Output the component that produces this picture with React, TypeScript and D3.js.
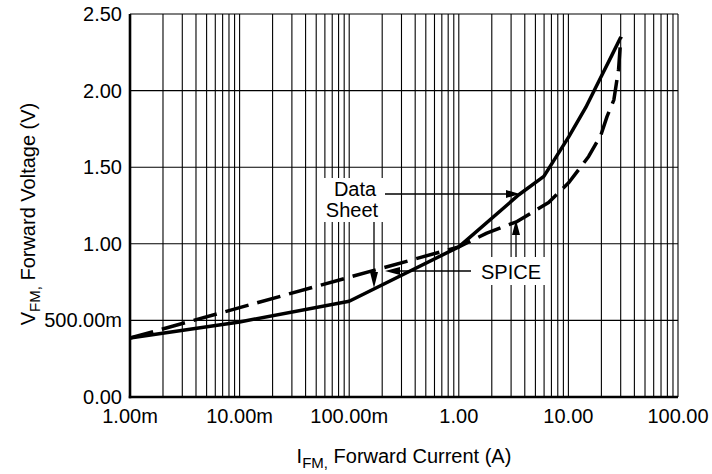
import React from "react";
import * as d3 from "d3";

const xTickValues = [0.001, 0.01, 0.1, 1, 10, 100];
const xTickLabels = ["1.00m", "10.00m", "100.00m", "1.00", "10.00", "100.00"];
const yTickValues = [0, 0.5, 1, 1.5, 2, 2.5];
const yTickLabels = ["0.00", "500.00m", "1.00", "1.50", "2.00", "2.50"];

const dataSheetI = [0.001, 0.01, 0.1, 1, 3.53, 5.97, 10.1, 14.4, 18.9, 24.9, 30.1];
const dataSheetV = [0.385, 0.49, 0.625, 0.98, 1.32, 1.44, 1.7, 1.89, 2.06, 2.23, 2.35];

const spiceI = [0.001, 1, 1.8, 3.4, 6.6, 10.1, 15.3, 19.8, 22.5, 26, 28.7, 30.1];
const spiceV = [0.385, 0.98, 1.07, 1.145, 1.27, 1.4, 1.57, 1.71, 1.83, 1.94, 2.14, 2.35];

const W = 712;
const H = 474;
const FONT = "'Liberation Sans', Arial, Helvetica, sans-serif";

export default function App() {
  const x = d3.scaleLog().domain([0.001, 100]).range([130, 678]);
  const y = d3.scaleLinear().domain([0, 2.5]).range([397, 14]);

  const minor: number[] = [];
  for (let e = -3; e < 2; e++) {
    for (let m = 1; m <= 9; m++) minor.push(m * Math.pow(10, e));
  }
  minor.push(100);

  const line = d3
    .line<[number, number]>()
    .x((d) => x(d[0]))
    .y((d) => y(d[1]));

  const ds: [number, number][] = dataSheetI.map((v, i) => [v, dataSheetV[i]]);
  const sp: [number, number][] = spiceI.map((v, i) => [v, spiceV[i]]);

  const [x0, x1] = x.range();
  const [yb, yt] = y.range();

  return (
    <svg
      width={W}
      height={H}
      style={{ position: "absolute", left: 0, top: 0, background: "#fff" }}
      fontFamily={FONT}
    >
      <rect x={0} y={0} width={W} height={H} fill="#fff" />
      {/* vertical grid */}
      {minor.map((v, i) => (
        <line key={"vx" + i} x1={x(v)} x2={x(v)} y1={yt} y2={yb} stroke="#000" strokeWidth={1.1} />
      ))}
      {/* horizontal grid */}
      {yTickValues.map((v, i) => (
        <line key={"hy" + i} x1={x0} x2={x1} y1={y(v)} y2={y(v)} stroke="#000" strokeWidth={1.1} />
      ))}
      {/* axes */}
      <line x1={x0} x2={x0} y1={yt} y2={yb + 1.2} stroke="#000" strokeWidth={2.6} />
      <line x1={x0 - 1.2} x2={x1} y1={yb} y2={yb} stroke="#000" strokeWidth={2.6} />

      {/* curves */}
      <path d={line(ds) || ""} fill="none" stroke="#000" strokeWidth={3.5} strokeLinejoin="round" />
      <path
        d={line(sp) || ""}
        fill="none"
        stroke="#000"
        strokeWidth={3.5}
        strokeDasharray="24,9"
        strokeLinejoin="round"
      />

      {/* tick labels */}
      {xTickValues.map((v, i) => (
        <text key={"xt" + i} x={x(v)} y={423} textAnchor="middle" fontSize={20} fill="#000">
          {xTickLabels[i]}
        </text>
      ))}
      {yTickValues.map((v, i) => (
        <text key={"yt" + i} x={122} y={y(v) + 7} textAnchor="end" fontSize={20} fill="#000">
          {yTickLabels[i]}
        </text>
      ))}

      {/* axis titles */}
      <text x={(x0 + x1) / 2} y={463} textAnchor="middle" fontSize={20} fill="#000">
        I<tspan dy={5} fontSize={15}>FM,</tspan>
        <tspan dy={-5}> Forward Current (A)</tspan>
      </text>
      <text
        transform={`translate(35,214) rotate(-90)`}
        textAnchor="middle"
        fontSize={20}
        fill="#000"
      >
        V<tspan dy={5} fontSize={15}>FM,</tspan>
        <tspan dy={-5}> Forward Voltage (V)</tspan>
      </text>

      {/* annotation: Data Sheet */}
      <rect x={322} y={178} width={62} height={44} fill="#fff" />
      <text x={355} y={196} textAnchor="middle" fontSize={20} fill="#000">Data</text>
      <text x={352} y={217} textAnchor="middle" fontSize={20} fill="#000">Sheet</text>
      <line x1={385} x2={508} y1={194} y2={194} stroke="#000" strokeWidth={1.3} />
      <path d="M520,194 L506,190 L506,198 Z" fill="#000" />
      <line x1={374} x2={374} y1={222} y2={274} stroke="#000" strokeWidth={1.3} />
      <path d="M374,288 L370,272 L378,272 Z" fill="#000" />

      {/* annotation: SPICE */}
      <rect x={474} y={257} width={72} height={28} fill="#fff" />
      <text x={511} y={279} textAnchor="middle" fontSize={20} fill="#000">SPICE</text>
      <line x1={398} x2={471} y1={271} y2={271} stroke="#000" strokeWidth={1.3} />
      <path d="M385,271 L400,267 L400,275 Z" fill="#000" />
      <line x1={516} x2={516} y1={233} y2={257} stroke="#000" strokeWidth={1.3} />
      <path d="M516,220 L512,235 L520,235 Z" fill="#000" />
    </svg>
  );
}
